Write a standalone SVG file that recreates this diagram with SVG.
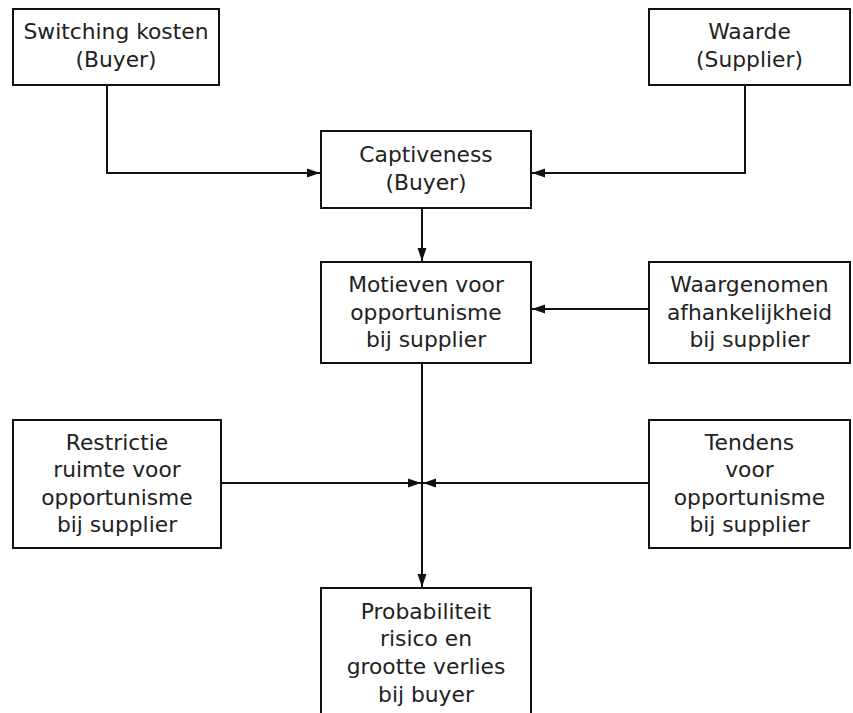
<svg xmlns="http://www.w3.org/2000/svg" width="853" height="713" viewBox="0 0 853 713">
<style>
.box{fill:#fff;stroke:#111;stroke-width:2}
.t{font-family:"DejaVu Sans","Liberation Sans",sans-serif;font-size:21.8px;fill:#222;text-anchor:middle}
.c{fill:none;stroke:#111;stroke-width:2}
</style>
<defs>
<marker id="ah" markerUnits="userSpaceOnUse" markerWidth="14" markerHeight="10" refX="13" refY="5" orient="auto">
<path d="M0,0.5 L13,5 L0,9.5 Z" fill="#111"/>
</marker>
</defs>
<rect width="853" height="713" fill="#fff"/>
<g id="connectors">
<polyline class="c" points="107,85 107,173 320,173" marker-end="url(#ah)"/>
<polyline class="c" points="745,85 745,173 532,173" marker-end="url(#ah)"/>
<line class="c" x1="422" y1="208" x2="422" y2="261" marker-end="url(#ah)"/>
<line class="c" x1="649" y1="309" x2="532" y2="309" marker-end="url(#ah)"/>
<line class="c" x1="422" y1="363" x2="422" y2="587" marker-end="url(#ah)"/>
<line class="c" x1="221" y1="483" x2="421" y2="483" marker-end="url(#ah)"/>
<line class="c" x1="649" y1="483" x2="423" y2="483" marker-end="url(#ah)"/>
</g>
<g id="switching">
<rect class="box" x="13" y="9" width="206" height="76"/>
<text class="t" x="116" y="39">Switching kosten</text>
<text class="t" x="116" y="67">(Buyer)</text>
</g>
<g id="waarde">
<rect class="box" x="649" y="9" width="201" height="76"/>
<text class="t" x="749.5" y="39">Waarde</text>
<text class="t" x="749.5" y="67">(Supplier)</text>
</g>
<g id="captiveness">
<rect class="box" x="321" y="131" width="210" height="77"/>
<text class="t" x="426" y="162">Captiveness</text>
<text class="t" x="426" y="190">(Buyer)</text>
</g>
<g id="motieven">
<rect class="box" x="321" y="262" width="210" height="101"/>
<text class="t" x="426" y="292">Motieven voor</text>
<text class="t" x="426" y="319.5">opportunisme</text>
<text class="t" x="426" y="347">bij supplier</text>
</g>
<g id="waargenomen">
<rect class="box" x="649" y="262" width="201" height="101"/>
<text class="t" x="749.5" y="292">Waargenomen</text>
<text class="t" x="749.5" y="319.5">afhankelijkheid</text>
<text class="t" x="749.5" y="347">bij supplier</text>
</g>
<g id="restrictie">
<rect class="box" x="13" y="420" width="208" height="128"/>
<text class="t" x="117" y="449.5">Restrictie</text>
<text class="t" x="117" y="477">ruimte voor</text>
<text class="t" x="117" y="504.5">opportunisme</text>
<text class="t" x="117" y="532">bij supplier</text>
</g>
<g id="tendens">
<rect class="box" x="649" y="420" width="201" height="128"/>
<text class="t" x="749.5" y="449.5">Tendens</text>
<text class="t" x="749.5" y="477">voor</text>
<text class="t" x="749.5" y="504.5">opportunisme</text>
<text class="t" x="749.5" y="532">bij supplier</text>
</g>
<g id="probabiliteit">
<rect class="box" x="321" y="588" width="210" height="135"/>
<text class="t" x="426" y="618.5">Probabiliteit</text>
<text class="t" x="426" y="646">risico en</text>
<text class="t" x="426" y="673.5">grootte verlies</text>
<text class="t" x="426" y="701.5">bij buyer</text>
</g>
</svg>
